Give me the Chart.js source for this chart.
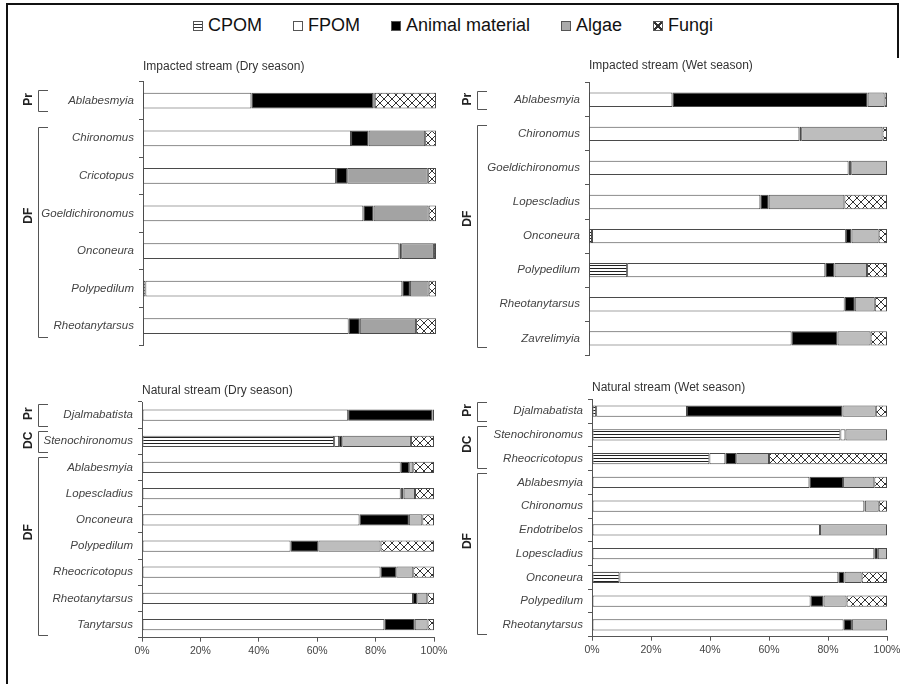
<!DOCTYPE html>
<html>
<head>
<meta charset="utf-8">
<script src="https://cdn.jsdelivr.net/npm/chart.js@4.4.1/dist/chart.umd.min.js"></script>
<style>
  body { margin: 0; background: #fff; }
  #page { position: relative; width: 906px; height: 684px; overflow: hidden; background: #fff;
          font-family: "Liberation Sans", Arial, sans-serif; }
  #page canvas { position: absolute; }
  .frame { position: absolute; background: #111; }
  #legend { position: absolute; left: 0; top: 15px; width: 906px; display: flex; justify-content: center;
            align-items: center; font-size: 18px; color: #111; }
  .item { display: flex; align-items: center; margin: 0 15.5px; }
  .box { width: 8px; height: 8px; border: 1px solid #555; margin-right: 5px; }
</style>
</head>
<body>
<div id="page">
  <div class="frame" style="left:6px;top:3px;width:893px;height:2px"></div>
  <div class="frame" style="left:6px;top:3px;width:2px;height:681px"></div>
  <div class="frame" style="left:897px;top:3px;width:2px;height:55px"></div>
  <div id="legend"></div>
  <canvas id="impDry" width="453" height="300" style="left:0;top:59px"></canvas>
  <canvas id="impWet" width="453" height="310" style="left:453px;top:58px"></canvas>
  <canvas id="natDry" width="453" height="301" style="left:0;top:383px"></canvas>
  <canvas id="natWet" width="453" height="304" style="left:453px;top:380px"></canvas>
</div>
<script>
// series
var seriesNames = ['CPOM', 'FPOM', 'Animal material', 'Algae', 'Fungi'];
var xTicks = [0, 20, 40, 60, 80, 100];

// Impacted stream, dry season
var impDryTaxa   = ['Ablabesmyia', 'Chironomus', 'Cricotopus', 'Goeldichironomus', 'Onconeura', 'Polypedilum', 'Rheotanytarsus'];
var impDryGroups = [['Pr', 1], ['DF', 6]];
var impDryCPOM   = [0, 0, 0, 0, 0, 0.8, 0];
var impDryFPOM   = [37, 71, 65.9, 75.2, 87.5, 87.7, 70.2];
var impDryAnimal = [41.6, 6, 3.8, 3.5, 0.6, 2.6, 3.8];
var impDryAlgae  = [0.5, 19.3, 27.5, 18.8, 11.2, 6.4, 19.2];
var impDryFungi  = [20.9, 3.7, 2.8, 2.5, 0.7, 2.5, 6.8];

// Impacted stream, wet season
var impWetTaxa   = ['Ablabesmyia', 'Chironomus', 'Goeldichironomus', 'Lopescladius', 'Onconeura', 'Polypedilum', 'Rheotanytarsus', 'Zavrelimyia'];
var impWetGroups = [['Pr', 1], ['DF', 7]];
var impWetCPOM   = [0, 0, 0, 0, 1.0, 12.8, 0, 0];
var impWetFPOM   = [28.0, 70.6, 87.1, 57.5, 85.2, 66.5, 85.8, 68.0];
var impWetAnimal = [65.5, 0.6, 0.9, 2.8, 1.9, 3.1, 3.4, 15.4];
var impWetAlgae  = [5.7, 27.3, 12.0, 25.4, 9.1, 10.9, 6.7, 11.1];
var impWetFungi  = [0.8, 1.5, 0, 14.3, 2.8, 6.7, 4.1, 5.5];

// Natural stream, dry season
var natDryTaxa   = ['Djalmabatista', 'Stenochironomus', 'Ablabesmyia', 'Lopescladius', 'Onconeura', 'Polypedilum', 'Rheocricotopus', 'Rheotanytarsus', 'Tanytarsus'];
var natDryGroups = [['Pr', 1], ['DC', 1], ['DF', 7]];
var natDryCPOM   = [0, 65.8, 0, 0, 0, 0, 0, 0, 0];
var natDryFPOM   = [70.6, 1.7, 88.6, 88.6, 74.5, 50.9, 81.7, 92.8, 83.0];
var natDryAnimal = [28.9, 1.1, 2.9, 1.0, 16.9, 9.5, 5.4, 1.5, 10.4];
var natDryAlgae  = [0, 23.5, 1.4, 3.9, 4.6, 21.3, 5.8, 3.4, 4.4];
var natDryFungi  = [0.5, 7.9, 7.1, 6.5, 4.0, 18.3, 7.1, 2.3, 2.2];

// Natural stream, wet season
var natWetTaxa   = ['Djalmabatista', 'Stenochironomus', 'Rheocricotopus', 'Ablabesmyia', 'Chironomus', 'Endotribelos', 'Lopescladius', 'Onconeura', 'Polypedilum', 'Rheotanytarsus'];
var natWetGroups = [['Pr', 1], ['DC', 2], ['DF', 7]];
var natWetCPOM   = [1.4, 84.2, 39.8, 0, 0, 0, 0, 9.3, 0, 0];
var natWetFPOM   = [30.8, 1.7, 5.4, 73.7, 92.3, 77.3, 95.7, 74.2, 74.1, 85.3];
var natWetAnimal = [52.7, 0, 3.7, 11.4, 0.2, 0, 1.2, 2.1, 4.4, 2.8];
var natWetAlgae  = [11.3, 14.1, 11.1, 10.6, 4.7, 22.7, 3.1, 5.8, 7.8, 11.9];
var natWetFungi  = [3.8, 0, 40.0, 4.3, 2.8, 0, 0, 8.6, 13.7, 0];

var FONT = '"Liberation Sans", Arial, sans-serif';
Chart.defaults.font.family = FONT;

// fill patterns
function linePattern() {
    var c = document.createElement('canvas');
    c.width = 6; c.height = 3;
    var x = c.getContext('2d');
    x.fillStyle = '#fff'; x.fillRect(0, 0, 6, 3);
    x.fillStyle = '#222'; x.fillRect(0, 0, 6, 1);
    return x.createPattern(c, 'repeat');
}
function crossPattern() {
    var c = document.createElement('canvas');
    c.width = 8; c.height = 8;
    var x = c.getContext('2d');
    x.fillStyle = '#fff'; x.fillRect(0, 0, 8, 8);
    x.strokeStyle = '#333'; x.lineWidth = 1;
    x.beginPath();
    x.moveTo(0, 0); x.lineTo(8, 8);
    x.moveTo(8, 0); x.lineTo(0, 8);
    x.stroke();
    return x.createPattern(c, 'repeat');
}
var cpomFill = linePattern();
var fungiFill = crossPattern();

// html legend
var legendCss = [
    'background:repeating-linear-gradient(#fff 0 2px,#333 2px 3px)',
    'background:#fff',
    'background:#000',
    'background:#aaa',
    'background:#fff;' +
    'background-image:linear-gradient(45deg,transparent 42%,#333 42% 58%,transparent 58%),linear-gradient(-45deg,transparent 42%,#333 42% 58%,transparent 58%)'
];
var legendEl = document.getElementById('legend');
seriesNames.forEach(function (name, i) {
    var it = document.createElement('div');
    it.className = 'item';
    it.innerHTML = '<span class="box" style="' + legendCss[i] + '"></span><span>' + name + '</span>';
    legendEl.appendChild(it);
});

// group brackets (Pr / DC / DF) drawn from the y scale
var brackets = {
    id: 'brackets',
    afterDraw: function (chart, args, o) {
        var y = chart.scales.y, ctx = chart.ctx;
        var half = (y.getPixelForTick(1) - y.getPixelForTick(0)) / 2;
        var start = 0;
        ctx.save();
        o.groups.forEach(function (g) {
            var top = Math.round(y.getPixelForTick(start) - half + o.pad) + 0.5;
            var bot = Math.round(y.getPixelForTick(start + g[1] - 1) + half - o.pad) + 0.5;
            ctx.strokeStyle = '#555';
            ctx.lineWidth = 1;
            ctx.beginPath();
            ctx.moveTo(o.x + o.stub, top);
            ctx.lineTo(o.x + 0.5, top);
            ctx.lineTo(o.x + 0.5, bot);
            ctx.lineTo(o.x + o.stub, bot);
            ctx.stroke();
            ctx.save();
            ctx.translate(o.labelX, (top + bot) / 2 - (bot - top) * 0.08);
            ctx.rotate(-Math.PI / 2);
            ctx.font = 'bold 12px ' + FONT;
            ctx.fillStyle = '#222';
            ctx.textAlign = 'center';
            ctx.textBaseline = 'middle';
            ctx.fillText(g[0], 0, 0);
            ctx.restore();
            start += g[1];
        });
        ctx.restore();
    }
};

function makePanel(id, title, taxa, values, groups, p) {
    var fills = [cpomFill, '#fff', '#000', p.algae, fungiFill];
    new Chart(id, {
        type: 'bar',
        data: {
            labels: taxa,
            datasets: seriesNames.map(function (name, i) {
                return {
                    label: name,
                    data: values[i],
                    backgroundColor: fills[i],
                    borderColor: '#4a4a4a',
                    borderWidth: 1,
                    borderSkipped: false,
                    barPercentage: p.bar,
                    categoryPercentage: 1
                };
            })
        },
        options: {
            indexAxis: 'y',
            responsive: false,
            animation: false,
            devicePixelRatio: 1,
            layout: { padding: { left: 0, right: p.right, top: 0, bottom: p.bottom } },
            scales: {
                x: {
                    stacked: true,
                    min: 0,
                    max: 100,
                    display: p.showX,
                    grid: { drawOnChartArea: false, tickLength: 4, color: '#555' },
                    border: { color: '#555' },
                    afterBuildTicks: function (s) { s.ticks = xTicks.map(function (v) { return { value: v }; }); },
                    ticks: {
                        callback: function (v) { return v + '%'; },
                        font: { size: 10.5 },
                        color: '#444',
                        padding: 3,
                        maxRotation: 0
                    },
                    afterFit: function (s) { s.height = p.showX ? 30 : 0; }
                },
                y: {
                    stacked: true,
                    grid: { offset: true, drawOnChartArea: false, tickLength: 4, color: '#555' },
                    border: { color: '#555' },
                    ticks: { font: { size: 11.5, style: 'italic' }, color: '#444', padding: 5, autoSkip: false },
                    afterFit: function (s) { s.width = p.yWidth; }
                }
            },
            plugins: {
                legend: { display: false },
                tooltip: { enabled: false },
                title: {
                    display: true,
                    text: title,
                    align: 'start',
                    fullSize: false,
                    color: '#333',
                    font: { size: 12, weight: 'normal' },
                    padding: { top: 0, bottom: p.titleGap }
                },
                brackets: { groups: groups, x: p.bx, stub: 10, pad: p.pad, labelX: p.lx }
            }
        },
        plugins: [brackets]
    });
}

makePanel('impDry', 'Impacted stream (Dry season)', impDryTaxa,
    [impDryCPOM, impDryFPOM, impDryAnimal, impDryAlgae, impDryFungi], impDryGroups,
    { algae: '#a3a3a3', bar: 0.42, right: 17, bottom: 14, yWidth: 143, titleGap: 8.5, showX: false, bx: 38, lx: 29, pad: 8 });

makePanel('impWet', 'Impacted stream (Wet season)', impWetTaxa,
    [impWetCPOM, impWetFPOM, impWetAnimal, impWetAlgae, impWetFungi], impWetGroups,
    { algae: '#bdbdbd', bar: 0.42, right: 19, bottom: 12.6, yWidth: 136, titleGap: 10.3, showX: false, bx: 24, lx: 15, pad: 8 });

makePanel('natDry', 'Natural stream (Dry season)', natDryTaxa,
    [natDryCPOM, natDryFPOM, natDryAnimal, natDryAlgae, natDryFungi], natDryGroups,
    { algae: '#bdbdbd', bar: 0.43, right: 19, bottom: 16.3, yWidth: 142, titleGap: 4.6, showX: true, bx: 38, lx: 29, pad: 2.5 });

makePanel('natWet', 'Natural stream (Wet season)', natWetTaxa,
    [natWetCPOM, natWetFPOM, natWetAnimal, natWetAlgae, natWetFungi], natWetGroups,
    { algae: '#bdbdbd', bar: 0.48, right: 19, bottom: 17.3, yWidth: 139, titleGap: 4.9, showX: true, bx: 24, lx: 15, pad: 2.5 });
</script>
</body>
</html>
